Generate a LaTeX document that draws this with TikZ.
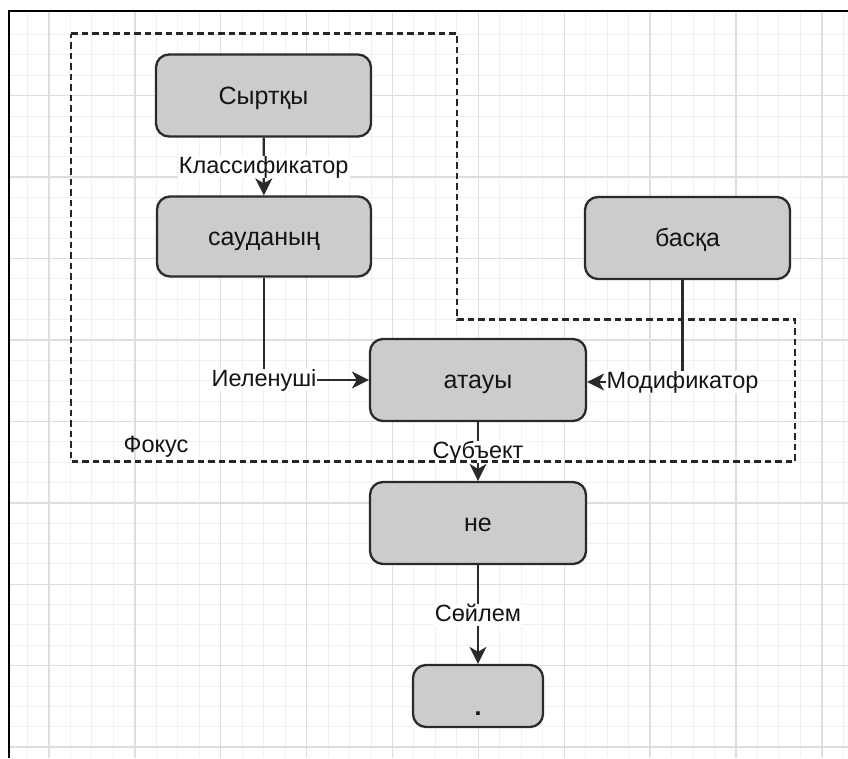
\documentclass[tikz,border=0pt]{standalone}
\usepackage{fontspec}
\setmainfont{Liberation Sans}
\usetikzlibrary{arrows.meta}
\definecolor{boxfill}{HTML}{CCCCCC}
\definecolor{boxline}{HTML}{2A2A2A}
\definecolor{txt}{HTML}{141414}
\definecolor{gminor}{HTML}{F0F0F0}
\definecolor{gmajor}{HTML}{DEDEDE}
\tikzset{
  box/.style={draw=boxline, fill=boxfill, rounded corners=13pt, line width=2.3pt,
    inner sep=0pt, text=txt, text height=19pt, text depth=1.5pt,
    font=\fontsize{25}{30}\selectfont},
  lbl/.style={fill=white, inner sep=1pt, text=txt, text height=16.5pt, text depth=3.5pt,
    font=\fontsize{23.5}{28}\selectfont},
  plainlbl/.style={inner sep=0pt, text=txt, font=\fontsize{23.5}{28}\selectfont},
  arr/.style={draw=boxline, line width=2.2pt, -{Stealth[length=17pt,width=17pt,inset=5pt]}},
  focus/.style={draw=black!85, line width=2.4pt, dash pattern=on 6.5pt off 4pt},
  gridminor/.style={draw=gminor, line width=1pt},
  gridmajor/.style={draw=gmajor, line width=1.4pt},
  frame/.style={draw=black, line width=2.2pt}
}
\begin{document}
\begin{tikzpicture}[x=1pt,y=-1pt]
\useasboundingbox (0,0) rectangle (848,758);
\fill[white] (0,0) rectangle (848,758);
% grid
\foreach \k in {-1,...,37} {
  \pgfmathsetmacro\xx{49+21.47*\k}
  \draw[gridminor] (\xx,11) -- (\xx,758);
}
\foreach \k in {-3,...,32} {
  \pgfmathsetmacro\yy{95.7+20.357*\k}
  \draw[gridminor] (9,\yy) -- (848,\yy);
}
\foreach \k in {0,...,9} {
  \pgfmathsetmacro\xx{49+85.88*\k}
  \draw[gridmajor] (\xx,11) -- (\xx,758);
}
\foreach \k in {0,...,8} {
  \pgfmathsetmacro\yy{95.7+81.43*\k}
  \draw[gridmajor] (9,\yy) -- (848,\yy);
}
\draw[frame] (9,758) -- (9,11) -- (848,11);

% boxes
\node[box, minimum width=215pt, minimum height=82pt] (s1) at (263.5,95.5) {Сыртқы};
\node[box, minimum width=214pt, minimum height=80pt] (s2) at (264,236.5) {сауданың};
\node[box, minimum width=205pt, minimum height=82pt] (bas) at (687.5,238) {басқа};
\node[box, minimum width=216pt, minimum height=82pt] (at) at (478,380) {атауы};
\node[box, minimum width=216pt, minimum height=82pt] (ne) at (478,523) {не};
\node[box, minimum width=130pt, minimum height=62pt, text height=38pt, text depth=0pt] (dot) at (478,696) {\textbf{.}};

% connectors
\draw[arr] (s1) -- (s2) node[midway, lbl] (lcl) {Классификатор};
\draw[arr] (s2) |- (at) node[pos=0.5, lbl] (lie) {Иеленуші};
\coordinate (bstart) at ([xshift=-5pt]bas.south);
\coordinate (aend) at ([yshift=-2pt]at.east);
\draw[arr] (bstart) |- (aend) node[pos=0.5, lbl] (lmod) {Модификатор};
\draw[arr] (at) -- (ne) node[midway, lbl] (lsub) {Субъект};
\draw[arr] (ne) -- (dot) node[midway, lbl] (lsoy) {Сөйлем};

% focus region
\draw[focus] (71,33.5) -- (457,33.5) -- (457,319.5) -- (795,319.5) -- (795,461.5) -- (71,461.5) -- cycle;
\node[plainlbl] (foc) at (156,447) {Фокус};
\end{tikzpicture}
\end{document}
